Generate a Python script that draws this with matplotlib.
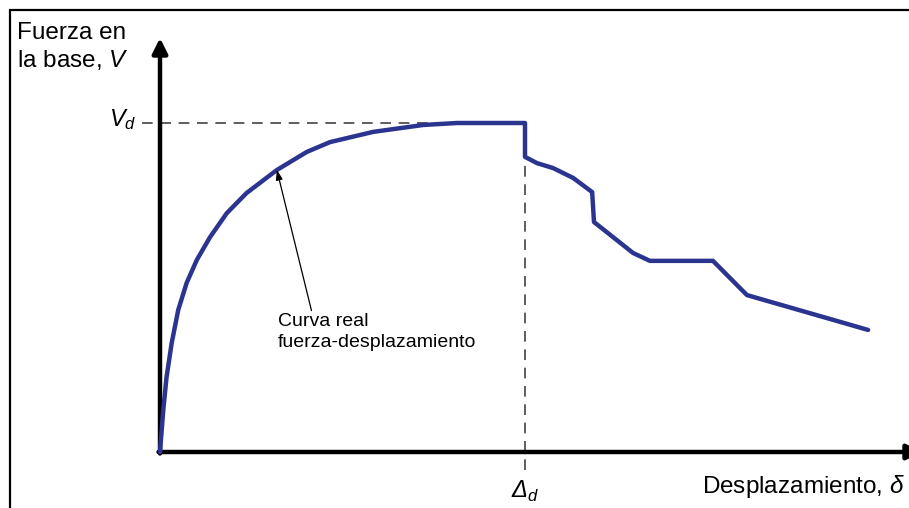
import numpy as np
import matplotlib
matplotlib.use("Agg")
import matplotlib.pyplot as plt
from matplotlib.patches import Rectangle

plt.rcParams['font.family'] = ['Liberation Sans', 'DejaVu Sans']
plt.rcParams['mathtext.fontset'] = 'custom'
plt.rcParams['mathtext.rm'] = 'Liberation Sans'
plt.rcParams['mathtext.it'] = 'Liberation Sans:italic'

# curva real fuerza-desplazamiento, normalizada (delta/Delta_d, V/V_d)
delta = [0.0, 0.009, 0.018, 0.032, 0.050, 0.073, 0.101, 0.137, 0.183, 0.237,
         0.320, 0.402, 0.466, 0.584, 0.721, 0.814, 1.0, 1.0, 1.033, 1.077,
         1.132, 1.184, 1.189, 1.296, 1.342, 1.515, 1.608, 1.940]
fuerza = [0.0, 0.128, 0.228, 0.331, 0.432, 0.514, 0.584, 0.653, 0.726, 0.787,
          0.857, 0.912, 0.942, 0.973, 0.994, 1.0, 1.0, 0.897, 0.878, 0.863,
          0.833, 0.790, 0.699, 0.605, 0.581, 0.581, 0.477, 0.371]
delta_d = 1.0
v_d = 1.0
flecha_punto = (0.320, 0.858)
flecha_texto = (0.415, 0.43)

fig = plt.figure(figsize=(9.09, 5.08), dpi=100)
ax = fig.add_axes([0, 0, 1, 1])
# escala: 365 px por unidad en x, 329 px por unidad en y
ax.set_xlim(-160 / 365, 749 / 365)
ax.set_ylim(-56 / 329, 452 / 329)
ax.axis("off")

# marco
fig.patches.append(Rectangle((10 / 909, -0.1), 1.2, (498 / 508) + 0.1,
                             transform=fig.transFigure, fill=False,
                             edgecolor="k", lw=1.6))

# ejes con flecha
ax.annotate("", xy=(0, 414 / 329), xytext=(0, -1.5 / 329),
            annotation_clip=False,
            arrowprops=dict(arrowstyle="-|>,head_length=0.9,head_width=0.45",
                            lw=3.2, color="k", shrinkA=0, shrinkB=0))
ax.annotate("", xy=(762 / 365, 0), xytext=(-1.5 / 365, 0),
            annotation_clip=False,
            arrowprops=dict(arrowstyle="-|>,head_length=0.9,head_width=0.45",
                            lw=3.2, color="k", shrinkA=0, shrinkB=0))

# lineas discontinuas
ax.plot([-18 / 365, delta_d], [v_d, v_d], color="#333333", lw=1.1,
        dashes=(7, 5), zorder=1)
ax.plot([delta_d, delta_d], [-18 / 329, 0.9], color="#333333", lw=1.1,
        dashes=(7, 5), zorder=1)

ax.plot(delta, fuerza, color="#2B3590", lw=3.2, solid_joinstyle="round",
        solid_capstyle="round", zorder=3)

ax.annotate("", xy=flecha_punto, xytext=flecha_texto,
            arrowprops=dict(arrowstyle="-|>,head_length=0.6,head_width=0.2",
                            lw=0.9, color="k", shrinkA=0, shrinkB=0))
ax.text(0.322, 0.423, "Curva real\nfuerza-desplazamiento", fontsize=14,
        va="top", ha="left", linespacing=1.3)

ax.text(-37 / 365, v_d + 3 / 329, "$V_d$", fontsize=17, ha="center",
        va="center")
# Delta_d en cursiva (texto normal para que la letra griega salga inclinada)
ax.text(delta_d + 2 / 365, -45 / 329, "Δ", fontsize=17, style="italic",
        ha="right", va="baseline")
ax.text(delta_d + 2 / 365, -49 / 329, "d", fontsize=12, style="italic",
        ha="left", va="baseline")

fig.text(17 / 909, 1 - 47 / 508, "Fuerza en\nla base, $V$", fontsize=17.5,
         ha="left", va="center", linespacing=1.2)
fig.text(702 / 909, 1 - 487 / 508, "Desplazamiento, $\\delta$", fontsize=17.5,
         ha="left", va="center")

fig.savefig("out.png", dpi=100)
